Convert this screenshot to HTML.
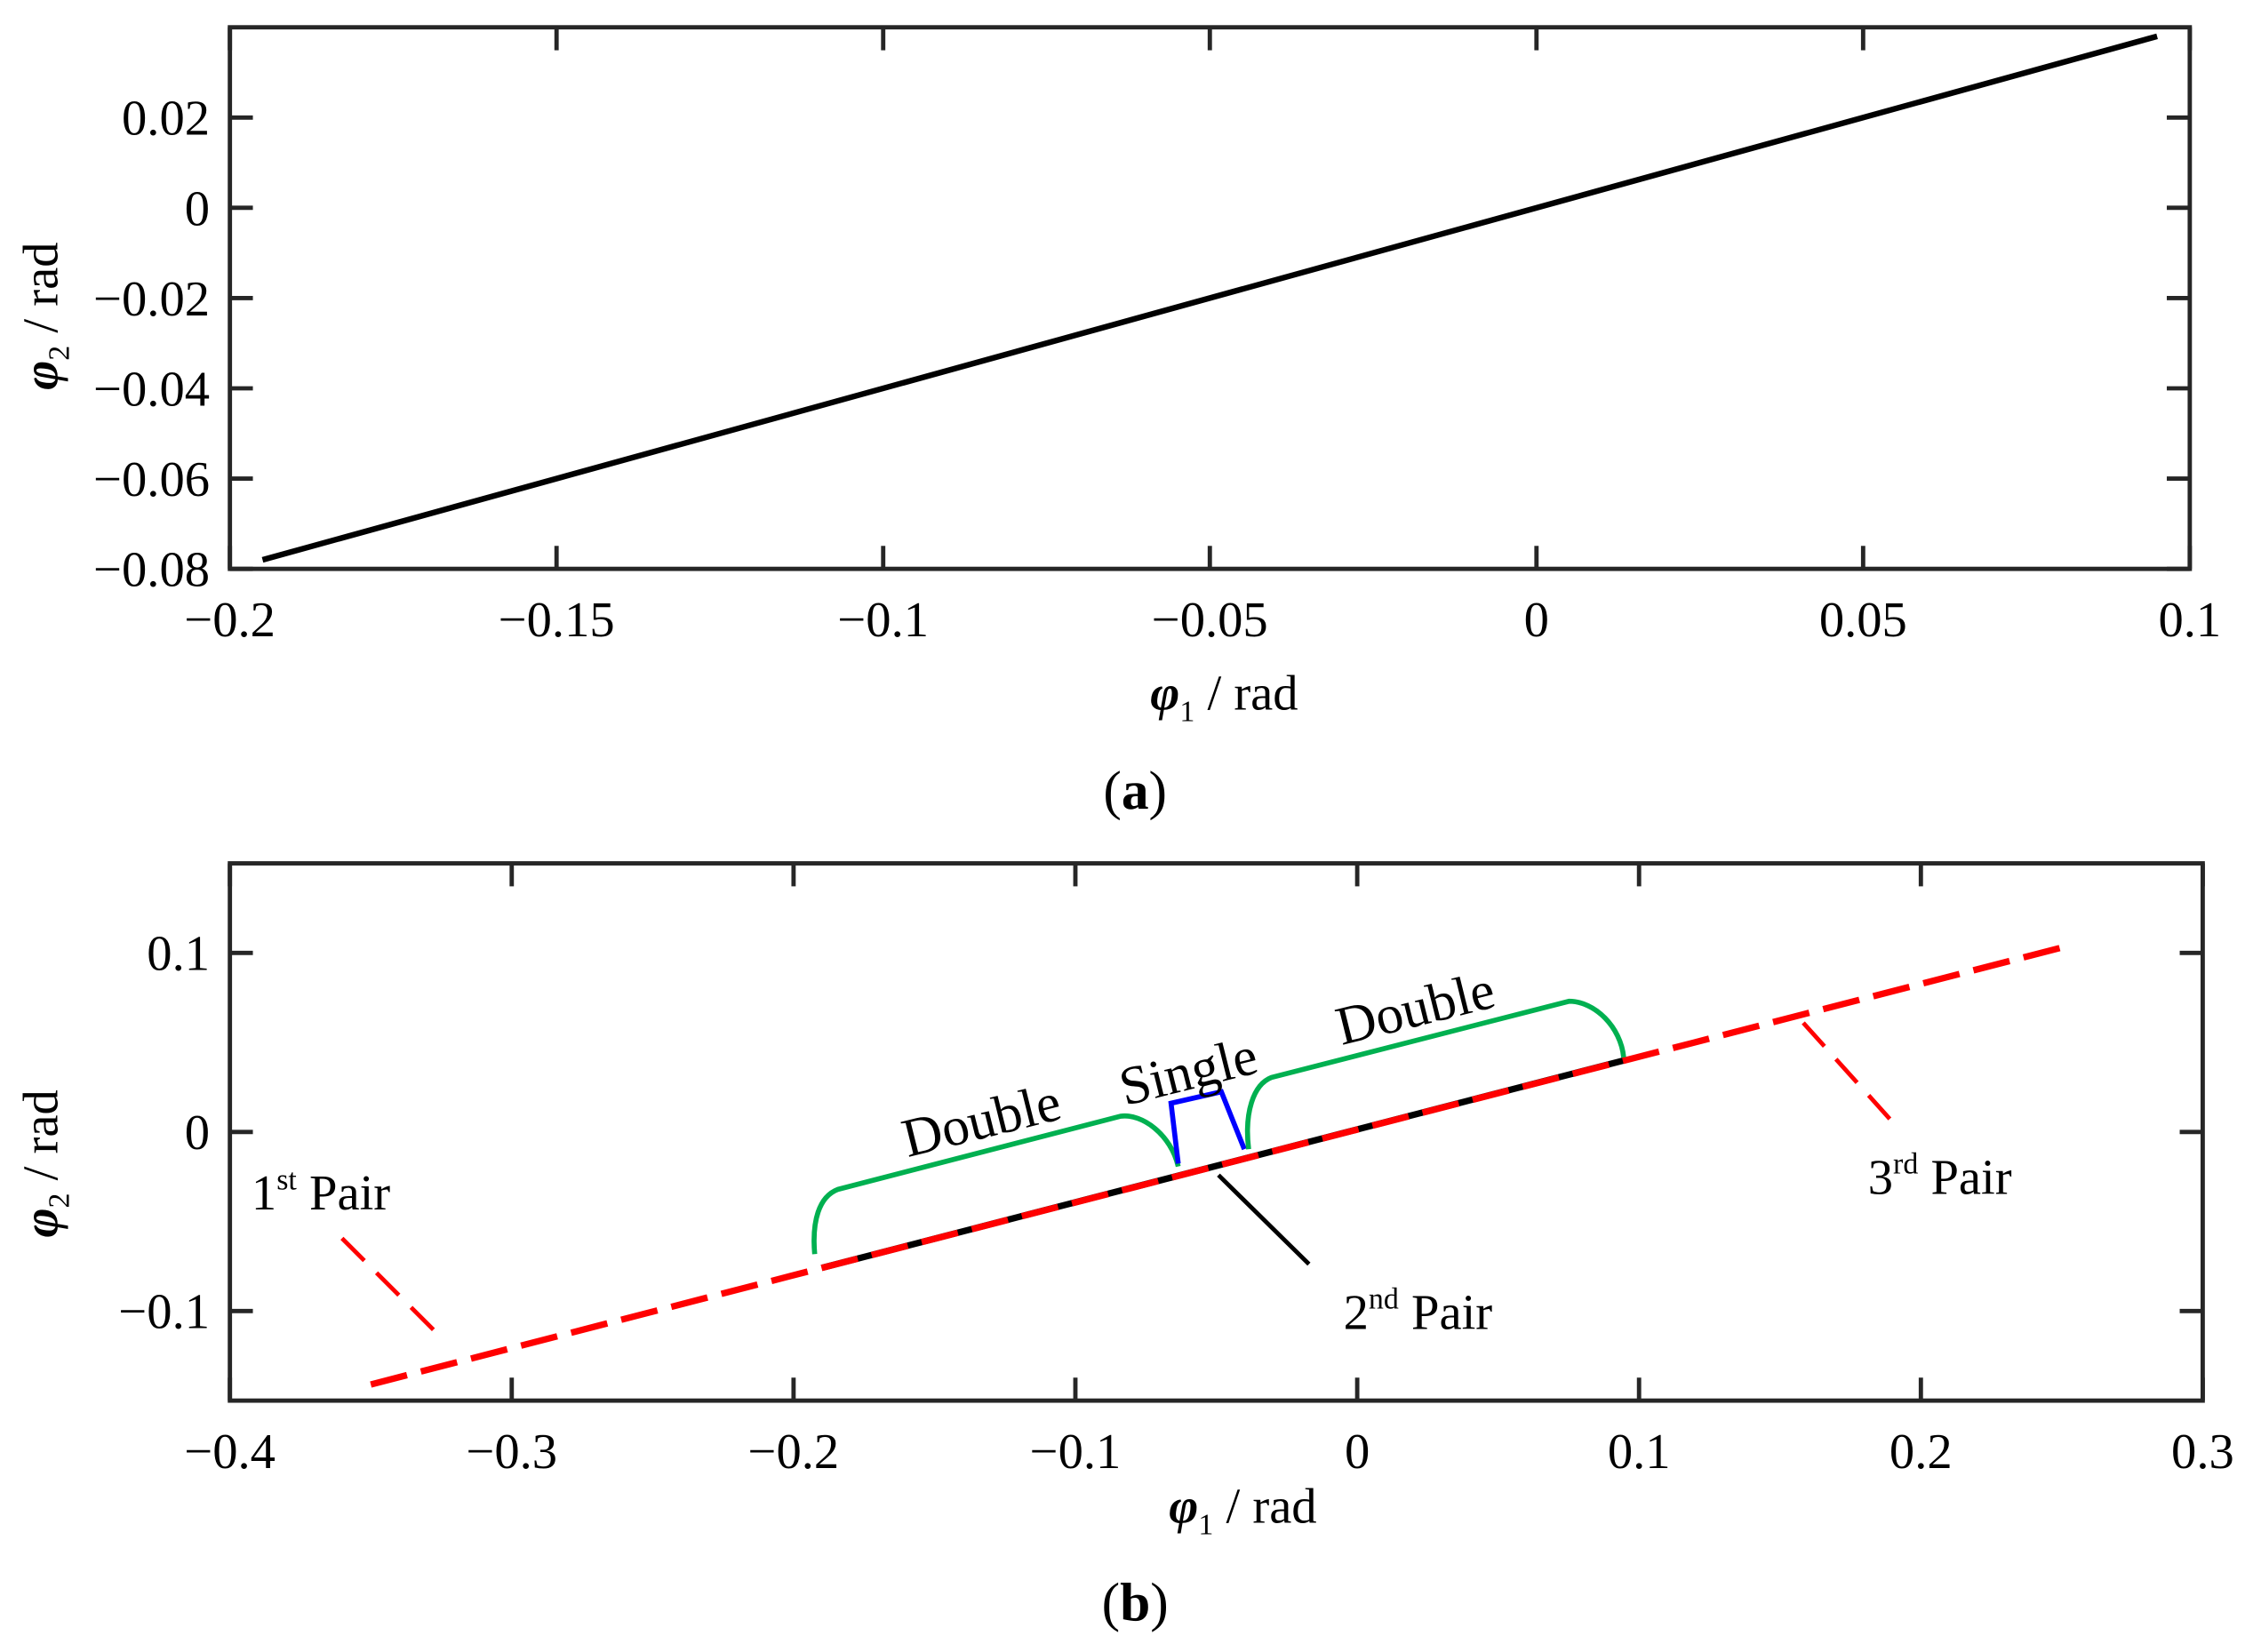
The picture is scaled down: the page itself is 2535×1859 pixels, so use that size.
<!DOCTYPE html>
<html><head><meta charset="utf-8"><style>
html,body{margin:0;padding:0;background:#fff;}
svg{display:block;}
text{font-family:"Liberation Serif",serif;fill:#000;}
</style></head><body>
<svg id="fig" width="2535" height="1859" viewBox="0 0 1568 1150" preserveAspectRatio="none" xmlns="http://www.w3.org/2000/svg">
<g id="pa"></g>
<g id="pb"></g>
</svg>
<script>
// Panel (a) data
const aXTicks = [-0.2, -0.15, -0.1, -0.05, 0, 0.05, 0.1];
const aXTickLabels = ["\u22120.2","\u22120.15","\u22120.1","\u22120.05","0","0.05","0.1"];
const aYTicks = [-0.08, -0.06, -0.04, -0.02, 0, 0.02];
const aYTickLabels = ["\u22120.08","\u22120.06","\u22120.04","\u22120.02","0","0.02"];
const aLineX = [-0.195, 0.095];
const aLineY = [-0.078, 0.038];
// Panel (b) data
const bXTicks = [-0.4, -0.3, -0.2, -0.1, 0, 0.1, 0.2, 0.3];
const bXTickLabels = ["\u22120.4","\u22120.3","\u22120.2","\u22120.1","0","0.1","0.2","0.3"];
const bYTicks = [-0.1, 0, 0.1];
const bYTickLabels = ["\u22120.1","0","0.1"];
const bRedX = [-0.35, 0.25];
const bRedY = [-0.141, 0.103];
const bBlackX = [-0.19, 0.095];
const bBlackY = [-0.0759, 0.0401];

const NS="http://www.w3.org/2000/svg";
function mk(parent,tag,attrs,txt){const e=document.createElementNS(NS,tag);for(const k in attrs)e.setAttribute(k,attrs[k]);if(txt!==undefined)e.textContent=txt;parent.appendChild(e);return e;}
function scale(d0,d1,p0,p1){return v=>p0+(v-d0)/(d1-d0)*(p1-p0);}

function axes(g,L,R,T,B,sx,sy,xt,xl,yt,yl,pre){
  for(let i=0;i<xt.length;i++){
    const x=sx(xt[i]);
    let t=mk(g,'line',{x1:x,x2:x,y1:B,y2:B-16,stroke:'#262626','stroke-width':3});
    
    t=mk(g,'line',{x1:x,x2:x,y1:T,y2:T+16,stroke:'#262626','stroke-width':3});
    
    const lb=mk(g,'text',{x:x,y:B+47,'font-size':35,'text-anchor':'middle'},xl[i]);
    
  }
  for(let i=0;i<yt.length;i++){
    const y=sy(yt[i]);
    let t=mk(g,'line',{x1:L,x2:L+16,y1:y,y2:y,stroke:'#262626','stroke-width':3});
    
    t=mk(g,'line',{x1:R,x2:R-16,y1:y,y2:y,stroke:'#262626','stroke-width':3});
    
    const lb=mk(g,'text',{x:L-14,y:y+12,'font-size':35,'text-anchor':'end'},yl[i]);
    
  }
  const f=mk(g,'rect',{x:L,y:T,width:R-L,height:B-T,fill:'none',stroke:'#262626','stroke-width':3});
  
}

// ---- Panel a
const pa=document.getElementById('pa');
const ax=scale(-0.2,0.1,160,1524), ay=scale(-0.08,0.04,396,19);
const la=mk(pa,'line',{x1:ax(aLineX[0]),y1:ay(aLineY[0]),x2:ax(aLineX[1]),y2:ay(aLineY[1]),stroke:'#000','stroke-width':4});

axes(pa,160,1524,19,396,ax,ay,aXTicks,aXTickLabels,aYTicks,aYTickLabels,'a-');

// ---- Panel b
const pb=document.getElementById('pb');
const bx=scale(-0.4,0.3,160,1533), by=scale(-0.15,0.15,975,601);
const lbk=mk(pb,'line',{x1:bx(bBlackX[0]),y1:by(bBlackY[0]),x2:bx(bBlackX[1]),y2:by(bBlackY[1]),stroke:'#000','stroke-width':4.5});

const lr=mk(pb,'line',{x1:bx(bRedX[0]),y1:by(bRedY[0]),x2:bx(bRedX[1]),y2:by(bRedY[1]),stroke:'#ff0000','stroke-width':4.5,'stroke-dasharray':'26 10'});

axes(pb,160,1533,601,975,bx,by,bXTicks,bXTickLabels,bYTicks,bYTickLabels,'b-');
</script>
<svg style="position:absolute;left:0;top:0" width="2535" height="1859" viewBox="0 0 1568 1150" preserveAspectRatio="none" xmlns="http://www.w3.org/2000/svg">
 <path d="M567,873 C565,850 570,833 583,828 L780,777 C795,775 815,790 820,812" fill="none" stroke="#00b050" stroke-width="3.5"/>
 <path d="M820,810 L815,768 L850,760 L866,800" fill="none" stroke="#0000ff" stroke-width="3.5"/>
 <path d="M869,800 C866,775 872,755 885,750 L1092,697 C1110,697 1128,715 1130,736" fill="none" stroke="#00b050" stroke-width="3.5"/>
 <text x="686" y="792" font-size="38" text-anchor="middle" transform="rotate(-14 686 792)">Double</text>
 <text x="830" y="758" font-size="38" text-anchor="middle" transform="rotate(-14 830 758)">Single</text>
 <text x="988" y="714" font-size="38" text-anchor="middle" transform="rotate(-14 988 714)">Double</text>
 <line x1="238" y1="862" x2="308" y2="932" stroke="#ff0000" stroke-width="3" stroke-dasharray="22 12"/>
 <line x1="1255" y1="712" x2="1318" y2="782" stroke="#ff0000" stroke-width="3" stroke-dasharray="22 12"/>
 <line x1="848" y1="818" x2="911" y2="880" stroke="#000" stroke-width="3"/>
 <text x="175" y="842" font-size="35">1<tspan font-size="21" dy="-14">st</tspan><tspan dy="14"> Pair</tspan></text>
 <text x="1300" y="831" font-size="35">3<tspan font-size="21" dy="-14">rd</tspan><tspan dy="14"> Pair</tspan></text>
 <text x="935" y="925" font-size="35">2<tspan font-size="21" dy="-14">nd</tspan><tspan dy="14"> Pair</tspan></text>
 <text x="852" y="494" font-size="35" text-anchor="middle"><tspan font-style="italic" font-weight="bold">φ</tspan><tspan font-size="21" dy="8">1</tspan><tspan dy="-8"> / rad</tspan></text>
 <text x="40" y="220" font-size="35" text-anchor="middle" transform="rotate(-90 40 220)"><tspan font-style="italic" font-weight="bold">φ</tspan><tspan font-size="21" dy="8">2</tspan><tspan dy="-8"> / rad</tspan></text>
 <text x="865" y="1060" font-size="35" text-anchor="middle"><tspan font-style="italic" font-weight="bold">φ</tspan><tspan font-size="21" dy="8">1</tspan><tspan dy="-8"> / rad</tspan></text>
 <text x="40" y="810" font-size="35" text-anchor="middle" transform="rotate(-90 40 810)"><tspan font-style="italic" font-weight="bold">φ</tspan><tspan font-size="21" dy="8">2</tspan><tspan dy="-8"> / rad</tspan></text>
 <text x="790" y="563" font-size="38" text-anchor="middle">(<tspan font-weight="bold">a</tspan>)</text>
 <text x="790" y="1128" font-size="38" text-anchor="middle">(<tspan font-weight="bold">b</tspan>)</text>
</svg>
</body></html>
